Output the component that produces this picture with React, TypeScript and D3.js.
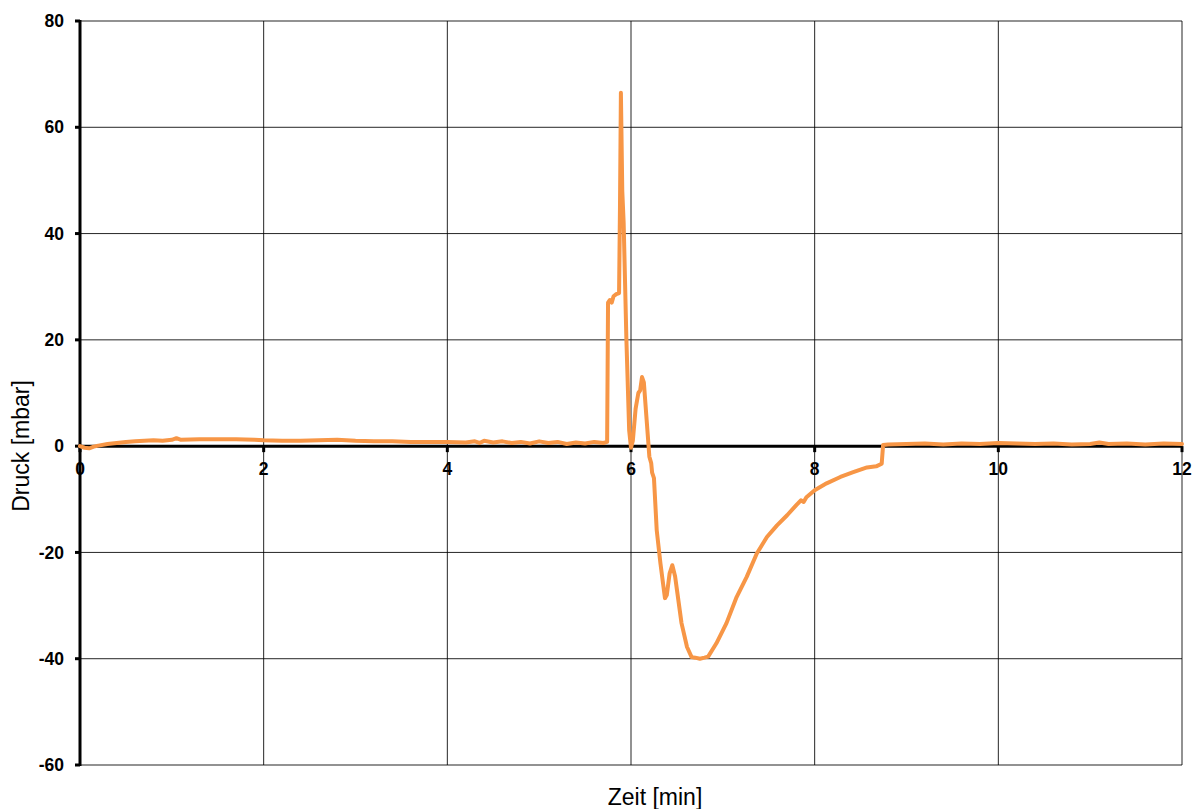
import React from "react";
import * as d3 from "d3";

const timeMin: number[] = [
  0, 0.05, 0.1, 0.15, 0.2, 0.3, 0.4, 0.5, 0.6, 0.7, 0.8, 0.9, 1.0, 1.05, 1.1, 1.3, 1.5, 1.7, 1.9, 2.0,
  2.2, 2.4, 2.6, 2.8, 2.9, 3.0, 3.2, 3.4, 3.6, 3.8, 4.0, 4.2, 4.3, 4.35, 4.4, 4.5, 4.6, 4.7, 4.8, 4.9,
  5.0, 5.1, 5.2, 5.3, 5.4, 5.5, 5.6, 5.7, 5.74, 5.75, 5.77, 5.79, 5.81, 5.84, 5.87, 5.88, 5.89, 5.905, 5.92, 5.95,
  5.98, 6.0, 6.02, 6.05, 6.08, 6.1, 6.12, 6.14, 6.17, 6.2, 6.22, 6.23, 6.25, 6.28, 6.32, 6.35, 6.37, 6.39, 6.42, 6.45,
  6.48, 6.5, 6.55, 6.61, 6.66, 6.7, 6.75, 6.8, 6.84, 6.93, 7.04, 7.15, 7.26, 7.37, 7.48, 7.59, 7.7, 7.8, 7.85, 7.88,
  7.91, 8.0, 8.13, 8.28, 8.42, 8.57, 8.67, 8.73, 8.745, 8.8, 9.0, 9.2, 9.4, 9.6, 9.8, 10.0, 10.2, 10.4, 10.6, 10.8,
  11.0, 11.1, 11.2, 11.4, 11.6, 11.8, 12.0,
];

const pressureMbar: number[] = [
  0, -0.3, -0.4, -0.1, 0.1, 0.4, 0.6, 0.8, 0.9, 1.0, 1.1, 1.0, 1.2, 1.5, 1.2, 1.3, 1.3, 1.3, 1.2, 1.1,
  1.0, 1.0, 1.1, 1.2, 1.1, 1.0, 0.9, 0.9, 0.8, 0.8, 0.8, 0.7, 0.9, 0.6, 1.0, 0.7, 0.9, 0.6, 0.8, 0.5,
  0.9, 0.6, 0.8, 0.4, 0.7, 0.5, 0.8, 0.6, 0.8, 27.0, 27.5, 27.0, 28.2, 28.6, 28.8, 45, 66.5, 48, 42, 20,
  3, -0.3, 1, 7, 10, 10.5, 13, 12, 5, -2, -3.2, -5, -6, -15.8, -22, -26, -28.6, -28, -24, -22.4,
  -24.5, -27, -33.3, -37.8, -39.7, -39.8, -40, -39.8, -39.6, -37.1, -33.3, -28.4, -24.6, -20.2, -17.1, -14.9, -13, -11.1, -10.2, -10.5,
  -9.6, -8.3, -7.0, -5.8, -4.9, -4.0, -3.8, -3.3, 0.2, 0.3, 0.4, 0.5, 0.3, 0.5, 0.4, 0.6, 0.5, 0.4, 0.5, 0.3,
  0.4, 0.7, 0.4, 0.5, 0.3, 0.5, 0.4,
];

const xTicks: number[] = [0, 2, 4, 6, 8, 10, 12];
const yTicks: number[] = [80, 60, 40, 20, 0, -20, -40, -60];

export default function App() {
  const W = 1197;
  const H = 809;
  const left = 80;
  const right = 1182;
  const top = 21;
  const bottom = 765;

  const x = d3.scaleLinear().domain([0, 12]).range([left, right]);
  const y = d3.scaleLinear().domain([-60, 80]).range([bottom, top]);

  const data = timeMin.map((t, i) => [t, pressureMbar[i]] as [number, number]);
  const line = d3
    .line<[number, number]>()
    .x((d) => x(d[0]))
    .y((d) => y(d[1]));

  const font = "'Liberation Sans', Arial, sans-serif";

  return (
    <svg
      width={W}
      height={H}
      style={{ position: "absolute", left: 0, top: 0, background: "#fff" }}
    >
      {yTicks.map((v) => (
        <line key={"hg" + v} x1={left} x2={right} y1={y(v)} y2={y(v)} stroke="#000" strokeWidth={1} opacity={0.85} />
      ))}
      {xTicks.map((v) => (
        <line key={"vg" + v} x1={x(v)} x2={x(v)} y1={top} y2={bottom} stroke="#000" strokeWidth={1} opacity={0.85} />
      ))}
      <line x1={left} x2={left} y1={top - 1} y2={bottom + 1} stroke="#000" strokeWidth={3} />
      {yTicks.map((v) => (
        <line key={"yt" + v} x1={left - 5} x2={left} y1={y(v)} y2={y(v)} stroke="#000" strokeWidth={3} />
      ))}
      <line x1={left} x2={right} y1={y(0)} y2={y(0)} stroke="#000" strokeWidth={3} />
      {xTicks.map((v) => (
        <line key={"xt" + v} x1={x(v)} x2={x(v)} y1={y(0)} y2={y(0) + 6} stroke="#000" strokeWidth={3} />
      ))}
      <path
        d={line(data) || ""}
        fill="none"
        stroke="#F79646"
        strokeWidth={4}
        strokeLinejoin="round"
        strokeLinecap="round"
      />
      {yTicks.map((v) => (
        <text
          key={"yl" + v}
          x={left - 16}
          y={y(v)}
          dy="0.35em"
          textAnchor="end"
          fontFamily={font}
          fontWeight="bold"
          fontSize={17.5}
          fill="#000"
        >
          {v}
        </text>
      ))}
      {xTicks.map((v) => (
        <text
          key={"xl" + v}
          x={x(v)}
          y={y(0) + 29}
          textAnchor="middle"
          fontFamily={font}
          fontWeight="bold"
          fontSize={17.5}
          fill="#000"
        >
          {v}
        </text>
      ))}
      <text
        transform={`translate(29, 446) rotate(-90)`}
        textAnchor="middle"
        fontFamily={font}
        fontSize={23}
        fill="#000"
      >
        Druck [mbar]
      </text>
      <text x={655} y={805} textAnchor="middle" fontFamily={font} fontSize={23} fill="#000">
        Zeit [min]
      </text>
    </svg>
  );
}
